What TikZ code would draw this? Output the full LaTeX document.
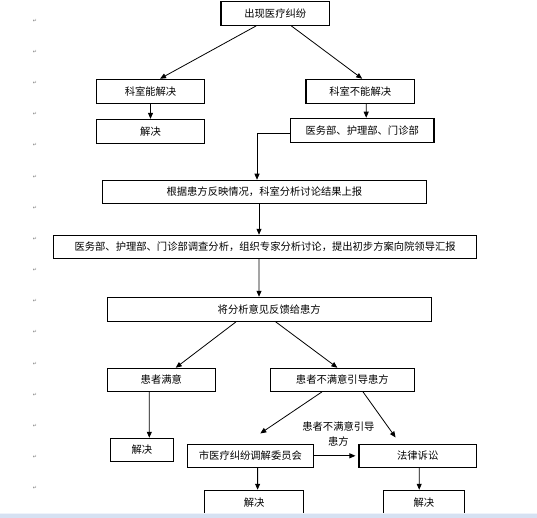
\documentclass[tikz,border=0pt]{standalone}
\usepackage{fontspec}
\setmainfont{Noto Sans CJK SC}
\newfontfamily\symfont{DejaVu Sans}
\usepackage{tikz}
\usetikzlibrary{arrows.meta,positioning}
\definecolor{barblue}{RGB}{214,225,242}
\definecolor{markgray}{RGB}{120,120,120}

\tikzset{
  box/.style={draw, line width=1.1bp, minimum height=23bp, inner sep=0pt,
    font=\fontsize{10.3bp}{12bp}\selectfont},
  flow/.style={->, line width=0.8bp},
  pmark/.style={text=markgray, inner sep=0pt, font=\symfont\fontsize{5bp}{6bp}\selectfont},
}

\begin{document}
\begin{tikzpicture}[x=1bp,y=-1bp,>={Triangle[length=6bp,width=5bp]}]
      \useasboundingbox (0,0) rectangle (537,518);

      \node[box, minimum width=108.5bp, minimum height=24bp] (start) at (275.25,13.3) {出现医疗纠纷};
      \node[box, minimum width=108bp, minimum height=24bp] (canfix) at (150.5,91.3) {科室能解决};
      \node[box, minimum width=108.5bp, minimum height=24bp] (cantfix) at (360.2,91.3) {科室不能解决};
      \node[box, minimum width=108bp, minimum height=24bp] (done1) [below=15bp of canfix] {解决};
      \node[box, minimum width=143.6bp, minimum height=24bp] (depts) at (362.2,130.3) {医务部、护理部、门诊部};
      \node[box, minimum width=324bp] (report) at (264.4,191.8) {根据患方反映情况，科室分析讨论结果上报};
      \node[box, minimum width=422.6bp] (survey) at (265.1,246.8) {医务部、护理部、门诊部调查分析，组织专家分析讨论，提出初步方案向院领导汇报};
      \node[box, minimum width=324bp, minimum height=24bp] (feedback) at (269.2,309.3) {将分析意见反馈给患方};
      \node[box, minimum width=108.2bp] (happy) at (161.3,379.8) {患者满意};
      \node[box, minimum width=144.2bp] (unhappy) at (342.3,379.8) {患者不满意引导患方};
      \node[box, minimum width=63bp] (done2) at (141.8,449.8) {解决};
      \node[box, minimum width=126bp] (board) at (250.4,455.8) {市医疗纠纷调解委员会};
      \node[box, minimum width=117.4bp] (court) at (417.7,455.8) {法律诉讼};
      \node[box, minimum width=99.3bp, minimum height=24bp] (done3) at (254.2,502.3) {解决};
      \node[box, minimum width=81bp, minimum height=24bp] (done4) at (423.9,502.3) {解决};
      \node[align=center, inner sep=0pt, font=\fontsize{10.3bp}{15bp}\selectfont] (guide) at (338.4,434.2) {患者不满意引导\\患方};

      \draw[flow] ([xshift=-19bp]start.south) -- ([xshift=9.5bp]canfix.north);
      \draw[flow] ([xshift=16bp]start.south) -- ([xshift=2bp]cantfix.north);
      \draw[flow] (canfix) -- (done1);
      \draw[flow] ([xshift=6bp]cantfix.south) -- ([xshift=4bp]depts.north);
      \draw[flow] ([yshift=-3bp]depts.west) -| ([xshift=-7.4bp]report.north);
      \draw[flow] ([xshift=-5.4bp]report.south) -- ([xshift=-6.1bp]survey.north);
      \draw[flow] ([xshift=-6.1bp]survey.south) -- ([xshift=-10.2bp]feedback.north);
      \draw[flow] ([xshift=-33.2bp]feedback.south) -- ([xshift=14.4bp]happy.north);
      \draw[flow] ([xshift=6.5bp]feedback.south) -- ([xshift=-4.9bp]unhappy.north);
      \draw[flow] ([xshift=-12bp]happy.south) -- ([xshift=7.5bp]done2.north);
      \draw[flow] ([xshift=-20.3bp]unhappy.south) -- ([xshift=9.9bp,yshift=10.3bp]board.north);
      \draw[flow] ([xshift=20.7bp]unhappy.south) -- ([xshift=-22.1bp,yshift=6.3bp]court.north);
      \draw[flow, shorten >=3bp] (board) -- (court);
      \draw[flow] ([xshift=7.2bp]board.south) -- ([xshift=3.4bp]done3.north);
      \draw[flow] ([xshift=1.5bp]court.south) -- ([xshift=-4.7bp]done4.north);

      % paragraph marks down the left margin
      \foreach \k in {0,...,15}
        \node[pmark] (pm\k) at (35,20.7+31.17*\k) {↵};

      % window edge at the bottom
      \fill[barblue] (0,513.3) rectangle (537,518);
      \draw[barblue!40!white, line width=0.8bp] (0,513.7) -- (537,513.7);
\end{tikzpicture}
\end{document}
